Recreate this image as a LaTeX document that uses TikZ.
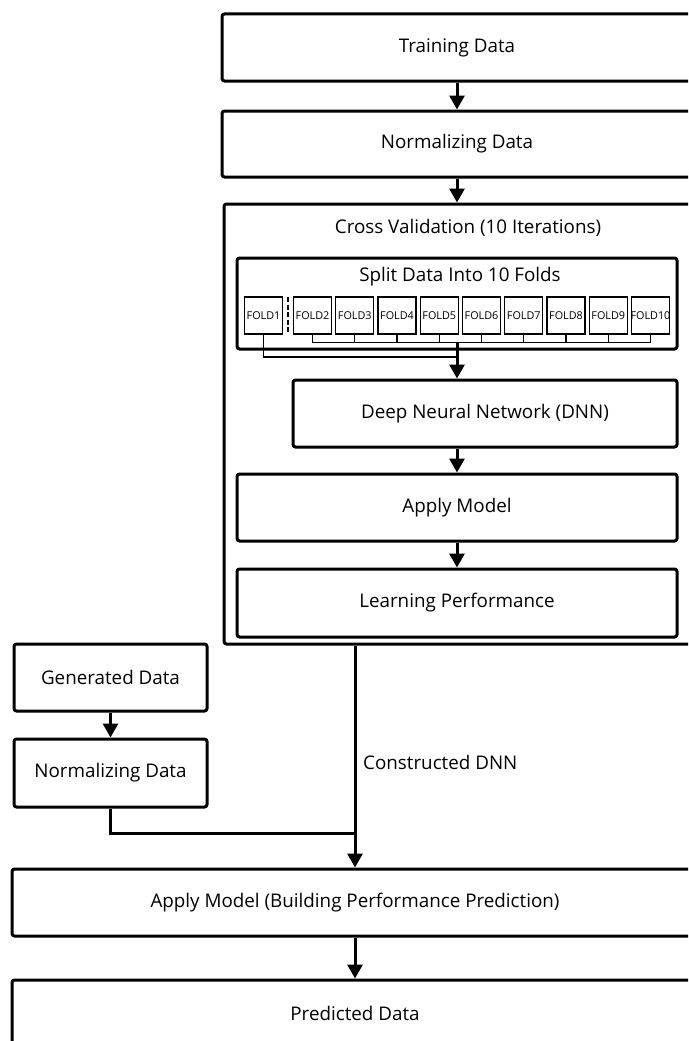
\documentclass[tikz,border=0pt]{standalone}
\usepackage{fontspec}
\setmainfont{Open Sans}
\usetikzlibrary{arrows.meta,calc}

\tikzset{
  box/.style={draw, line width=3pt, rounded corners=2.5pt, minimum height=67pt,
    inner sep=0pt, font=\fontsize{18.8}{22}\selectfont},
  fold/.style={draw, line width=1.3pt, minimum width=38pt, minimum height=37pt,
    inner sep=0pt, font=\fontsize{10.8}{12}\selectfont},
  caption/.style={inner sep=0pt, font=\fontsize{18.8}{22}\selectfont},
  link/.style={line width=1.3pt},
  wire/.style={line width=3pt},
  flow/.style={line width=3pt, -{Triangle[width=15pt,length=14pt]}},
}

\begin{document}
\begin{tikzpicture}[x=1pt, y=-1pt]
  \useasboundingbox (0,0) rectangle (688,1041);
  \clip (0,0) rectangle (688,1041);

  % training branch
  \node[box, minimum width=470pt] (train) at (457,47.5) {Training Data};
  \node[box, minimum width=470pt, minimum height=66pt] (norm1) at (457,144) {Normalizing Data};

  % cross validation frame
  \node[box, minimum width=488pt, minimum height=440pt] (cv) at (468,424) {};
  \node[caption] (cvtitle) at (468,228) {Cross Validation (10 Iterations)};

  \node[box, minimum width=440pt, minimum height=91pt] (split) at (457,303.5) {};
  \node[caption] (splittitle) at (460,277) {Split Data Into 10 Folds};

  \node[fold] (f1) at (263.5,315.5) {\makebox[0pt]{FOLD1}};
  \foreach \k [evaluate=\k as \cx using 312.5+42.25*(\k-2)] in {2,...,10}
    \node[fold] (f\k) at (\cx,315.5) {\makebox[0pt]{FOLD\k}};
  \draw[link, dashed, dash pattern=on 5pt off 2.5pt] (288,297) -- (288,334);

  \node[box, minimum width=384pt] (dnn) at (485,413.5) {Deep Neural Network (DNN)};
  \node[box, minimum width=440pt] (apply) at (457,507.5) {Apply Model};
  \node[box, minimum width=440pt, minimum height=68pt] (learn) at (457,603) {Learning Performance};

  % generated branch
  \node[box, minimum width=193pt] (gen) at (110.5,677.5) {Generated Data};
  \node[box, minimum width=193pt, minimum height=68pt] (norm2) at (110.5,773) {Normalizing Data};

  % prediction
  \node[box, minimum width=686pt] (predict) at (355,902.5) {Apply Model (Building Performance Prediction)};
  \node[box, minimum width=686pt] (out) at (355,1013.5) {Predicted Data};

  % fold wiring
  \coordinate (bus) at (457,342.5);
  \coordinate (merge) at (457,357);
  \foreach \k in {2,...,10}
    \draw[link] (f\k.south) -- (f\k.south |- bus);
  \draw[link] (f2.south |- bus) -- (f10.south |- bus);
  \draw[link] (f1.south) |- (merge);
  \draw[flow] (bus) -- (bus |- dnn.north);

  % main flow
  \draw[flow] (train.south) -- (norm1.north);
  \draw[flow] (norm1.south) -- (norm1.south |- cv.north);
  \draw[flow] (apply.north |- dnn.south) -- (apply.north);
  \draw[flow] (apply.south) -- (learn.north);
  \draw[flow] (gen.south) -- (norm2.north);

  \coordinate (join) at (355,833);
  \draw[wire] (norm2.south) |- (join);
  \draw[flow] (cv.south -| predict.north) -- (predict.north);
  \node[caption, anchor=west] (cdnn) at (363,762) {Constructed DNN};
  \draw[flow] (predict.south) -- (out.north);
\end{tikzpicture}
\end{document}
